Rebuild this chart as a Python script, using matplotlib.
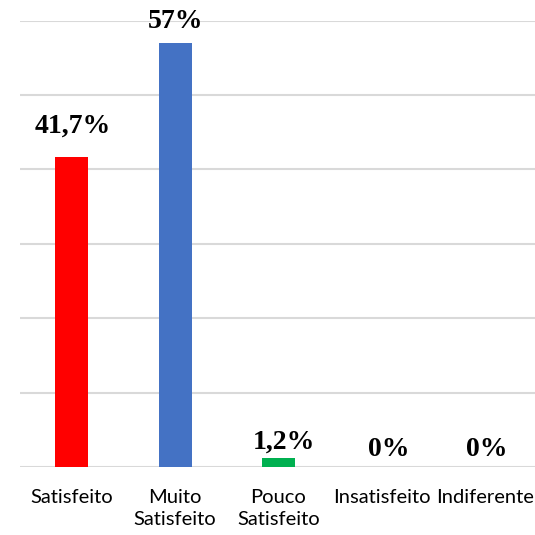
import matplotlib.pyplot as plt

# Data
categories = ["Satisfeito", "Muito\nSatisfeito", "Pouco\nSatisfeito", "Insatisfeito", "Indiferente"]
values = [41.7, 57.0, 1.2, 0.0, 0.0]
value_labels = ["41,7%", "57%", "1,2%", "0%", "0%"]
colors = ["#FF0000", "#4472C4", "#00B050", "#A5A5A5", "#FFC000"]

# label nudges (points), the labels in the original sit unevenly
label_dx = [0.7, 0, 3.6, 5, 1]
label_dy = [17, 10.5, 6.5, 8, 8]

fig = plt.figure(figsize=(5.35, 5.35), dpi=100)
ax = fig.add_axes([20 / 535, 68 / 535, 517 / 535, 446.5 / 535])

x = range(len(categories))
ax.bar(x, values, width=0.32, color=colors, zorder=3)

for i, (v, lab) in enumerate(zip(values, value_labels)):
    ax.annotate(lab, (i, v), xytext=(label_dx[i], label_dy[i]), textcoords="offset points",
                ha="center", va="baseline", fontsize=20, fontweight="bold",
                family="Liberation Serif", color="black", annotation_clip=False)

ax.set_xlim(-0.5, len(categories) - 0.5)
ax.set_ylim(0, 60)
ax.set_yticks(range(0, 61, 10))
ax.set_yticklabels([])
ax.tick_params(axis="y", length=0)
ax.grid(axis="y", color="#D9D9D9", linewidth=1.5, zorder=0)
ax.set_axisbelow(True)
for s in ax.spines.values():
    s.set_visible(False)

ax.set_xticks(list(x))
ax.set_xticklabels(categories, fontsize=14.5, family="Lato", linespacing=1.35)
ax.tick_params(axis="x", length=0, pad=16)

fig.savefig("out.png", dpi=100)
